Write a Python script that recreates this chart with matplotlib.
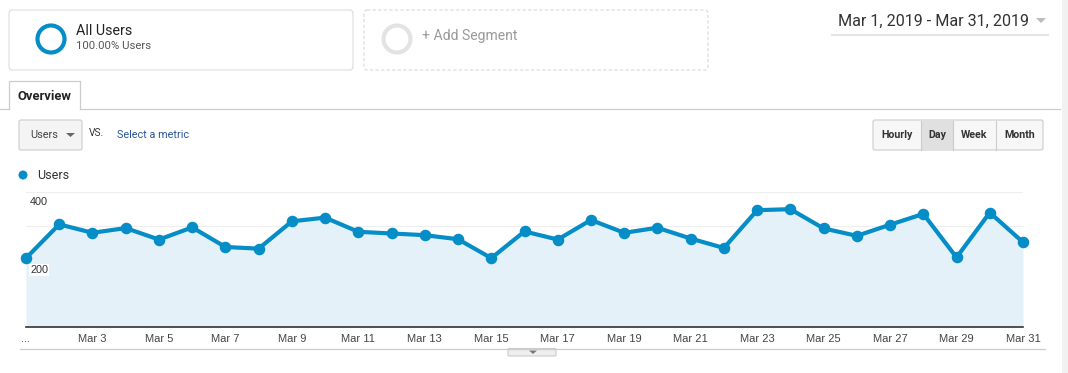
import matplotlib
matplotlib.use("Agg")
import matplotlib.pyplot as plt
from matplotlib.patches import FancyBboxPatch, Circle, Polygon, Rectangle

# daily users, March 2019
days = list(range(1, 32))
users = [205, 305, 280, 294, 260, 296, 238, 233, 314, 325,
         283, 278, 273, 261, 205, 284, 260, 318, 280, 295,
         263, 235, 347, 350, 293, 271, 304, 336, 207, 340, 252]
tick_days = list(range(1, 32, 2))
tick_labels = ["..."] + [f"Mar {d}" for d in tick_days[1:]]
y_labels = [400, 200]

W, H = 1068, 373
BLUE = "#058dc7"
FILL = "#e5f1f8"

plt.rcParams["font.family"] = ["Liberation Sans", "DejaVu Sans"]

fig = plt.figure(figsize=(W / 100, H / 100), dpi=100)

# background axes in pixel coords (y down) for the page chrome
bg = fig.add_axes([0, 0, 1, 1])
bg.set_xlim(0, W)
bg.set_ylim(H, 0)
bg.axis("off")


def box(x0, y0, x1, y1, fc="white", ec="#dddddd", lw=0.8, r=3, ls="-"):
    bg.add_patch(FancyBboxPatch((x0, y0), x1 - x0, y1 - y0,
                                boxstyle=f"round,pad=0,rounding_size={r}",
                                fc=fc, ec=ec, lw=lw, ls=ls))


# segment boxes
box(9, 10, 353, 70)
bg.add_patch(Circle((51, 39), 13.5, fill=False, ec=BLUE, lw=3.0))
bg.text(76, 31, "All Users", fontsize=10.3, color="#222222", va="center", family="Roboto")
bg.text(76, 46, "100.00% Users", fontsize=8.2, color="#555555", va="center", family="Roboto")

box(364, 10, 708, 70, ec="#d8d8d8", ls=(0, (3, 2)))
bg.add_patch(Circle((397, 39), 13.5, fill=False, ec="#e3e3e3", lw=3.0))
bg.text(422, 36, "+ Add Segment", fontsize=10.1, color="#999999", va="center", family="Roboto")

# date range
bg.text(838, 21, "Mar 1, 2019 - Mar 31, 2019", fontsize=11.6, color="#333333",
        va="center", family="Roboto")
bg.add_patch(Polygon([(1036, 18), (1046, 18), (1041, 23)], closed=True, fc="#bbbbbb", ec="none"))
bg.plot([832, 1048], [34.5, 34.5], color="#e5e5e5", lw=1.5)

# tab strip
bg.plot([0, 9], [108.5, 108.5], color="#cccccc", lw=0.9)
bg.plot([80, 1060], [108.5, 108.5], color="#cccccc", lw=0.9)
bg.plot([9, 9, 80, 80], [108.5, 81, 81, 108.5], color="#cccccc", lw=0.9)
bg.text(18, 96, "Overview", fontsize=9.4, color="#222222", weight="bold", va="center",
        family="Roboto")

# metric selector
box(19, 120, 82, 150, fc="#f4f4f4", ec="#cccccc", r=2)
bg.text(30, 135, "Users", fontsize=7.8, color="#444444", va="center", family="Roboto")
bg.add_patch(Polygon([(66, 133), (75, 133), (70.5, 137)], closed=True, fc="#666666", ec="none"))
bg.text(89, 133.5, "VS.", fontsize=7.3, color="#333333", va="center", family="Roboto")
bg.text(117, 135, "Select a metric", fontsize=7.8, color="#2b5797", va="center", family="Roboto")

# Hourly / Day / Week / Month buttons
box(873, 120, 1043, 150, fc="#f7f7f7", ec="#cccccc", r=2)
bg.add_patch(Rectangle((921, 120.5), 32, 29, fc="#e0e0e0", ec="none"))
for xd in [921, 953, 996]:
    bg.plot([xd, xd], [120.5, 149.5], color="#cccccc", lw=0.8)
for xc, lab in zip([897, 937, 974.5, 1019.5], ["Hourly", "Day", "Week", "Month"]):
    bg.text(xc, 135, lab, fontsize=7.7, color="#333333", weight="bold",
            ha="center", va="center", family="Roboto")

# legend
bg.add_patch(Circle((23, 175), 4.5, fc=BLUE, ec="none"))
bg.text(37, 175.5, "Users", fontsize=9.0, color="#333333", va="center", family="Roboto")

# bottom separator + scroll handle
bg.plot([20, 1045], [348.5, 348.5], color="#cccccc", lw=0.9)
box(508, 348.5, 556, 356, fc="#eeeeee", ec="#cccccc", r=1)
bg.add_patch(Polygon([(529, 350.5), (537, 350.5), (533, 354)], closed=True, fc="#777777", ec="none"))

# right scrollbar strip
bg.add_patch(Rectangle((1062, 0), 6, H, fc="#f1f1f1", ec="none"))

# chart axes
left, right, top, bottom = 26, 1023, 192.3, 327.3
ax = fig.add_axes([left / W, (H - bottom) / H, (right - left) / W, (bottom - top) / H])
ax.set_facecolor("none")
ax.set_xlim(1, 31)
ax.set_ylim(0, 400)

for yv in [100, 200, 300, 400]:
    ax.axhline(yv, color="#dcdcdc" if yv == 200 else "#eeeeee", lw=0.8, zorder=1)

ax.fill_between(days, users, 0, color=FILL, zorder=2, lw=0)
ax.plot(days, users, color=BLUE, lw=3.0, marker="o", markersize=7.3,
        zorder=4, clip_on=False, solid_joinstyle="round")

for yv in y_labels:
    ax.annotate(str(yv), xy=(0, yv), xycoords=("axes fraction", "data"),
                xytext=(3, -3.5), textcoords="offset points", ha="left", va="top",
                fontsize=7.8, color="#333333", zorder=3,
                bbox=dict(boxstyle="square,pad=0.1", fc="white", ec="none") if yv == 200 else None)

for s in ["top", "left", "right"]:
    ax.spines[s].set_visible(False)
ax.spines["bottom"].set_color("#333333")
ax.spines["bottom"].set_linewidth(1.2)
ax.set_yticks([])
ax.set_xticks(tick_days)
ax.set_xticklabels(tick_labels, fontsize=8.0, color="#444444")
ax.tick_params(axis="x", length=0, pad=4.5)

fig.savefig("out.png", dpi=100)
